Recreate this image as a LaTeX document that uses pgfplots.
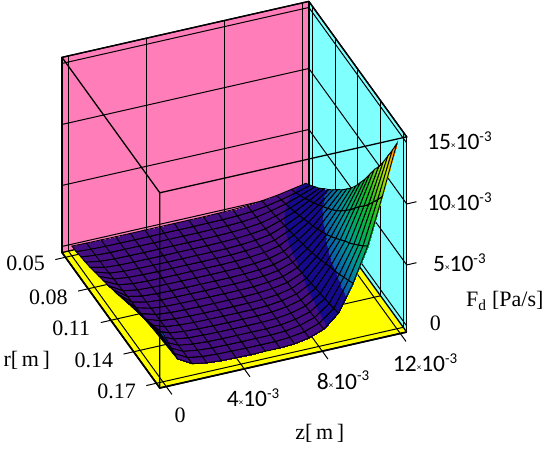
\documentclass[border=0pt]{standalone}
\usepackage{fontspec}
\setmainfont{Liberation Serif}
\newfontfamily\timesf{Liberation Serif}
\newfontfamily\carlito{Carlito}
\usepackage{pgfplots}
\pgfplotsset{compat=1.18}
% z and F_d tick labels: small times sign, raised exponent
\newcommand\tx[1]{{\carlito\fontsize{23.5}{23.5}\selectfont #1{\fontsize{9}{9}\selectfont\raisebox{1pt}{×}}10\raisebox{8.5pt}{\fontsize{15}{15}\selectfont -3}}}
\newcommand\tm{\timesf\fontsize{22}{22}\selectfont}
\definecolor{wallpink}{RGB}{255,125,185}
\definecolor{wallcyan}{RGB}{128,255,255}
\definecolor{floory}{RGB}{255,255,0}
\begin{document}
\begin{tikzpicture}[x=1pt,y=1pt]
\begin{axis}[
  at={(62pt,61pt)}, anchor=south west,
  set layers, clip=false,
  x={(7.583pt,-10.5pt)}, y={(19.5pt,4.42pt)}, z={(0pt,12.2pt)},
  xmin=4.55, xmax=17.45, ymin=-0.33, ymax=12.33, zmin=-0.5, zmax=15.5,
  xtick={5,8,11,14,17}, ytick={0,4,8,12}, ztick={0,5,10,15},
  xticklabels={{\raisebox{4pt}{\tm 0.05}},{\tm 0.08},{\tm 0.11},{\tm 0.14},{\raisebox{-7pt}{\tm 0.17}}},
  yticklabels={{\raisebox{-3pt}{\tm 0}}\hspace*{4pt},\tx{4}\hspace*{14pt},\hspace*{10pt}\tx{8},\hspace*{18pt}\tx{12}},
  zticklabels={{\tm 0}\hspace*{48pt},\tx{5},\tx{10},\tx{15}},
  xtick pos=left, ytick pos=left, ztick pos=right,
  zticklabel pos=right,
  yticklabel style={anchor=center,xshift=10pt,yshift=-21pt},
  xticklabel style={anchor=center,xshift=-30pt,yshift=-6pt},
  zticklabel style={anchor=center,xshift=43pt},
  tick align=outside, major tick length=10pt,
  tick style={draw=none},
  grid=major, grid style={black,line width=1pt},
  axis line style={black,line width=1.3pt},
  xlabel={r[\,m\,]}, ylabel={z[\,m\,]}, zlabel={F\textsubscript{d} [Pa/s]},
  every axis x label/.style={at={(axis cs:12.69,-5.3,-0.5)},anchor=center,font=\tm},
  every axis y label/.style={at={(axis cs:24.1,5.29,-0.5)},anchor=center,font=\tm},
  every axis z label/.style={at={(axis cs:16.73,17.64,-0.5)},anchor=center,font=\tm},
  point meta min=0, point meta max=15,
  colormap={mcad}{
    rgb255(0pt)=(68,14,130) rgb255(20pt)=(68,14,130)
    rgb255(21pt)=(22,10,140) rgb255(60pt)=(22,10,140)
    rgb255(61pt)=(10,90,170) rgb255(100pt)=(0,150,150)
    rgb255(125pt)=(0,170,100) rgb255(170pt)=(20,190,40)
    rgb255(240pt)=(190,225,0) rgb255(270pt)=(255,170,0)
    rgb255(300pt)=(255,50,0)},
]
\begin{pgfonlayer}{axis background}
  \fill[wallpink] (axis cs:4.55,-0.33,-0.5) -- (axis cs:4.55,12.33,-0.5)
    -- (axis cs:4.55,12.33,15.5) -- (axis cs:4.55,-0.33,15.5) -- cycle;
  \fill[wallcyan] (axis cs:4.55,12.33,-0.5) -- (axis cs:17.45,12.33,-0.5)
    -- (axis cs:17.45,12.33,15.5) -- (axis cs:4.55,12.33,15.5) -- cycle;
  \fill[floory] (axis cs:4.55,-0.33,-0.5) -- (axis cs:4.55,12.33,-0.5)
    -- (axis cs:17.45,12.33,-0.5) -- (axis cs:17.45,-0.33,-0.5) -- cycle;
\end{pgfonlayer}
\addplot3[surf, shader=faceted interp, faceted color=black, line width=0.9pt,
  mesh/rows=17, mesh/ordering=y varies, z buffer=none] coordinates {
(5,12,1.10)(5,11.25,.86)(5,10.5,.64)(5,9.75,.48)(5,9,.35)(5,8.25,.29)(5,7.5,.27)(5,6.75,.25)(5,6,.25)(5,5.25,.25)(5,4.5,.25)(5,3.75,.25)(5,3,.25)(5,2.25,.25)(5,1.5,.26)(5,.75,.27)(5,0,.30)
(5.6,12,1.44)(5.6,11.25,1.10)(5.6,10.5,.79)(5.6,9.75,.56)(5.6,9,.38)(5.6,8.25,.30)(5.6,7.5,.26)(5.6,6.75,.25)(5.6,6,.24)(5.6,5.25,.24)(5.6,4.5,.24)(5.6,3.75,.24)(5.6,3,.24)(5.6,2.25,.24)(5.6,1.5,.25)(5.6,.75,.28)(5.6,0,.36)
(6.2,12,1.84)(6.2,11.25,1.39)(6.2,10.5,.98)(6.2,9.75,.67)(6.2,9,.43)(6.2,8.25,.32)(6.2,7.5,.27)(6.2,6.75,.25)(6.2,6,.24)(6.2,5.25,.24)(6.2,4.5,.24)(6.2,3.75,.24)(6.2,3,.24)(6.2,2.25,.25)(6.2,1.5,.26)(6.2,.75,.30)(6.2,0,.44)
(6.8,12,2.23)(6.8,11.25,1.67)(6.8,10.5,1.15)(6.8,9.75,.77)(6.8,9,.47)(6.8,8.25,.33)(6.8,7.5,.27)(6.8,6.75,.24)(6.8,6,.23)(6.8,5.25,.23)(6.8,4.5,.23)(6.8,3.75,.23)(6.8,3,.23)(6.8,2.25,.24)(6.8,1.5,.26)(6.8,.75,.32)(6.8,0,.53)
(7.4,12,2.72)(7.4,11.25,2.02)(7.4,10.5,1.37)(7.4,9.75,.90)(7.4,9,.52)(7.4,8.25,.35)(7.4,7.5,.27)(7.4,6.75,.23)(7.4,6,.22)(7.4,5.25,.22)(7.4,4.5,.22)(7.4,3.75,.22)(7.4,3,.23)(7.4,2.25,.24)(7.4,1.5,.26)(7.4,.75,.34)(7.4,0,.62)
(8,12,3.16)(8,11.25,2.33)(8,10.5,1.57)(8,9.75,1.01)(8,9,.56)(8,8.25,.36)(8,7.5,.27)(8,6.75,.22)(8,6,.21)(8,5.25,.21)(8,4.5,.21)(8,3.75,.21)(8,3,.22)(8,2.25,.23)(8,1.5,.27)(8,.75,.38)(8,0,.76)
(8.6,12,3.66)(8.6,11.25,2.69)(8.6,10.5,1.80)(8.6,9.75,1.14)(8.6,9,.62)(8.6,8.25,.38)(8.6,7.5,.28)(8.6,6.75,.22)(8.6,6,.21)(8.6,5.25,.21)(8.6,4.5,.21)(8.6,3.75,.21)(8.6,3,.22)(8.6,2.25,.24)(8.6,1.5,.28)(8.6,.75,.42)(8.6,0,.91)
(9.2,12,4.20)(9.2,11.25,3.08)(9.2,10.5,2.04)(9.2,9.75,1.28)(9.2,9,.68)(9.2,8.25,.40)(9.2,7.5,.28)(9.2,6.75,.22)(9.2,6,.20)(9.2,5.25,.20)(9.2,4.5,.20)(9.2,3.75,.20)(9.2,3,.21)(9.2,2.25,.23)(9.2,1.5,.29)(9.2,.75,.46)(9.2,0,1.05)
(9.8,12,4.69)(9.8,11.25,3.43)(9.8,10.5,2.26)(9.8,9.75,1.41)(9.8,9,.73)(9.8,8.25,.42)(9.8,7.5,.28)(9.8,6.75,.21)(9.8,6,.19)(9.8,5.25,.19)(9.8,4.5,.19)(9.8,3.75,.20)(9.8,3,.21)(9.8,2.25,.23)(9.8,1.5,.29)(9.8,.75,.49)(9.8,0,1.19)
(10.4,12,5.28)(10.4,11.25,3.85)(10.4,10.5,2.53)(10.4,9.75,1.56)(10.4,9,.79)(10.4,8.25,.44)(10.4,7.5,.28)(10.4,6.75,.21)(10.4,6,.18)(10.4,5.25,.18)(10.4,4.5,.18)(10.4,3.75,.19)(10.4,3,.20)(10.4,2.25,.23)(10.4,1.5,.30)(10.4,.75,.54)(10.4,0,1.38)
(11,12,5.88)(11,11.25,4.28)(11,10.5,2.80)(11,9.75,1.72)(11,9,.86)(11,8.25,.47)(11,7.5,.29)(11,6.75,.21)(11,6,.18)(11,5.25,.18)(11,4.5,.18)(11,3.75,.19)(11,3,.20)(11,2.25,.23)(11,1.5,.32)(11,.75,.59)(11,0,1.53)
(11.6,12,6.57)(11.6,11.25,4.78)(11.6,10.5,3.11)(11.6,9.75,1.90)(11.6,9,.94)(11.6,8.25,.49)(11.6,7.5,.30)(11.6,6.75,.20)(11.6,6,.17)(11.6,5.25,.17)(11.6,4.5,.17)(11.6,3.75,.18)(11.6,3,.19)(11.6,2.25,.23)(11.6,1.5,.33)(11.6,.75,.64)(11.6,0,1.72)
(12.2,12,7.36)(12.2,11.25,5.34)(12.2,10.5,3.47)(12.2,9.75,2.10)(12.2,9,1.02)(12.2,8.25,.52)(12.2,7.5,.30)(12.2,6.75,.20)(12.2,6,.16)(12.2,5.25,.16)(12.2,4.5,.16)(12.2,3.75,.17)(12.2,3,.19)(12.2,2.25,.23)(12.2,1.5,.34)(12.2,.75,.69)(12.2,0,1.91)
(12.8,12,8.15)(12.8,11.25,5.91)(12.8,10.5,3.83)(12.8,9.75,2.31)(12.8,9,1.11)(12.8,8.25,.55)(12.8,7.5,.31)(12.8,6.75,.19)(12.8,6,.15)(12.8,5.25,.15)(12.8,4.5,.15)(12.8,3.75,.16)(12.8,3,.18)(12.8,2.25,.23)(12.8,1.5,.35)(12.8,.75,.74)(12.8,0,2.10)
(13.4,12,9.05)(13.4,11.25,6.56)(13.4,10.5,4.24)(13.4,9.75,2.55)(13.4,9,1.22)(13.4,8.25,.60)(13.4,7.5,.33)(13.4,6.75,.19)(13.4,6,.15)(13.4,5.25,.15)(13.4,4.5,.15)(13.4,3.75,.16)(13.4,3,.18)(13.4,2.25,.24)(13.4,1.5,.37)(13.4,.75,.80)(13.4,0,2.30)
(14,12,9.94)(14,11.25,7.20)(14,10.5,4.65)(14,9.75,2.79)(14,9,1.32)(14,8.25,.63)(14,7.5,.34)(14,6.75,.19)(14,6,.14)(14,5.25,.14)(14,4.5,.14)(14,3.75,.15)(14,3,.18)(14,2.25,.23)(14,1.5,.38)(14,.75,.85)(14,0,2.49)
(14.6,12,10.73)(14.6,11.25,7.76)(14.6,10.5,5.01)(14.6,9.75,2.99)(14.6,9,1.40)(14.6,8.25,.66)(14.6,7.5,.34)(14.6,6.75,.18)(14.6,6,.13)(14.6,5.25,.13)(14.6,4.5,.13)(14.6,3.75,.14)(14.6,3,.17)(14.6,2.25,.23)(14.6,1.5,.39)(14.6,.75,.90)(14.6,0,2.68)
(15.2,12,11.62)(15.2,11.25,8.40)(15.2,10.5,5.41)(15.2,9.75,3.23)(15.2,9,1.50)(15.2,8.25,.70)(15.2,7.5,.35)(15.2,6.75,.18)(15.2,6,.12)(15.2,5.25,.12)(15.2,4.5,.12)(15.2,3.75,.13)(15.2,3,.16)(15.2,2.25,.23)(15.2,1.5,.40)(15.2,.75,.95)(15.2,0,2.87)
(15.8,12,12.62)(15.8,11.25,9.12)(15.8,10.5,5.87)(15.8,9.75,3.50)(15.8,9,1.62)(15.8,8.25,.75)(15.8,7.5,.37)(15.8,6.75,.18)(15.8,6,.12)(15.8,5.25,.12)(15.8,4.5,.12)(15.8,3.75,.13)(15.8,3,.16)(15.8,2.25,.24)(15.8,1.5,.42)(15.8,.75,1.01)(15.8,0,3.07)
(16.4,12,13.61)(16.4,11.25,9.83)(16.4,10.5,6.32)(16.4,9.75,3.76)(16.4,9,1.73)(16.4,8.25,.79)(16.4,7.5,.38)(16.4,6.75,.18)(16.4,6,.11)(16.4,5.25,.11)(16.4,4.5,.11)(16.4,3.75,.13)(16.4,3,.16)(16.4,2.25,.24)(16.4,1.5,.43)(16.4,.75,1.06)(16.4,0,3.26)
(17,12,14.70)(17,11.25,10.61)(17,10.5,6.82)(17,9.75,4.04)(17,9,1.85)(17,8.25,.83)(17,7.5,.39)(17,6.75,.17)(17,6,.10)(17,5.25,.10)(17,4.5,.10)(17,3.75,.12)(17,3,.15)(17,2.25,.24)(17,1.5,.44)(17,.75,1.12)(17,0,3.50)
};
% front edges of the box, over the surface
\draw[black,line width=1.3pt] (axis cs:17.45,-0.33,-0.5) -- (axis cs:17.45,-0.33,15.5)
  -- (axis cs:4.55,-0.33,15.5) -- (axis cs:4.55,12.33,15.5) -- (axis cs:17.45,12.33,15.5)
  -- (axis cs:17.45,-0.33,15.5);
\draw[black,line width=1.3pt] (axis cs:17.45,12.33,15.5) -- (axis cs:17.45,12.33,-0.5);
\draw[black,line width=1.7pt] (axis cs:4.55,-0.33,-0.5) -- (axis cs:17.45,-0.33,-0.5) -- (axis cs:17.45,12.33,-0.5);
% tick marks on the three front edges only
\draw[black,line width=1pt]
  (axis cs:5,-0.33,-0.5) -- (axis cs:5,-0.85,-0.5)
  (axis cs:8,-0.33,-0.5) -- (axis cs:8,-0.85,-0.5)
  (axis cs:11,-0.33,-0.5) -- (axis cs:11,-0.85,-0.5)
  (axis cs:14,-0.33,-0.5) -- (axis cs:14,-0.85,-0.5)
  (axis cs:17,-0.33,-0.5) -- (axis cs:17,-0.85,-0.5)
  (axis cs:17.45,0,-0.5) -- (axis cs:18.2,0,-0.5)
  (axis cs:17.45,4,-0.5) -- (axis cs:18.2,4,-0.5)
  (axis cs:17.45,8,-0.5) -- (axis cs:18.2,8,-0.5)
  (axis cs:17.45,12,-0.5) -- (axis cs:18.2,12,-0.5)
  (axis cs:17.45,12.33,5) -- (axis cs:17.45,12.83,5)
  (axis cs:17.45,12.33,10) -- (axis cs:17.45,12.83,10);
\end{axis}
\pgfresetboundingbox
\path[use as bounding box] (0,0) rectangle (550,449);
\end{tikzpicture}
\end{document}
